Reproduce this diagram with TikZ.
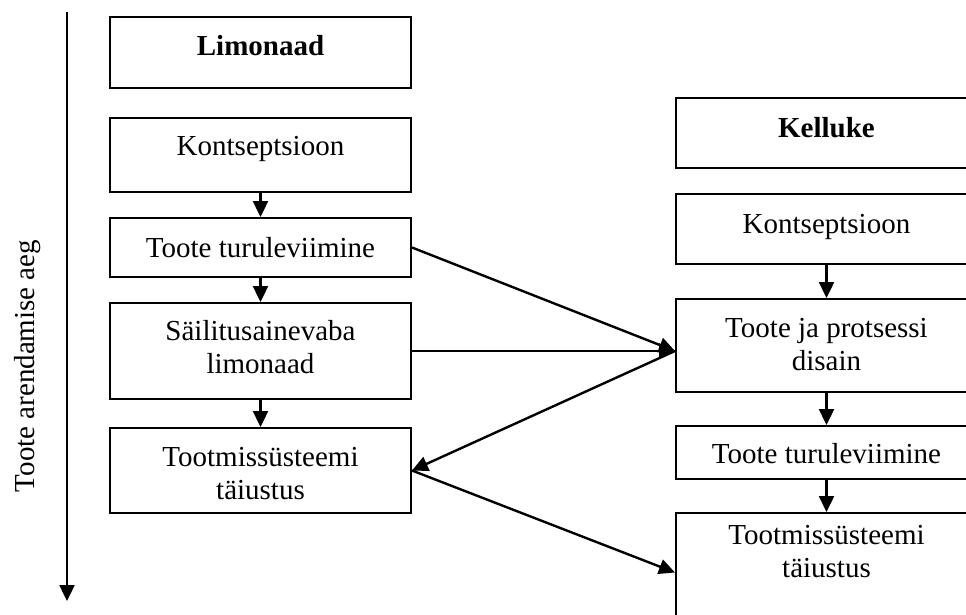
\documentclass[tikz,border=0pt]{standalone}
\usepackage{fontspec}
\setmainfont{Liberation Serif}
\usetikzlibrary{arrows.meta,calc}

\tikzset{
  stagebox/.style={draw, line width=2pt, rectangle, inner sep=0pt,
    minimum width=301pt, text height=22pt,
    font=\fontsize{29}{33.5}\selectfont},
  flow/.style={line width=2.4pt, -{Triangle[length=16pt,width=15pt]}},
}
% two-line centred text, baseline at the first line
\newcommand{\twoline}[2]{\begin{tabular}[t]{@{}c@{}}#1\\#2\end{tabular}}

\begin{document}
\begin{tikzpicture}[x=1pt,y=-1pt]
\useasboundingbox (0,0) rectangle (966,615);
\clip (0,0) rectangle (966,615);

% time axis
\coordinate (axisTop) at (67,12);
\coordinate (axisEnd) at (67,601);
\draw[flow] (axisTop) -- (axisEnd);
\node[rotate=90, anchor=base, inner sep=0pt,
      font=\fontsize{29}{33.5}\selectfont] (axislabel) at (34,366)
  {Toote arendamise aeg};

% Limonaad column
\node[stagebox, minimum height=71pt, text depth=15pt]  (l0) at (260.5,52.5) {\textbf{Limonaad}};
\node[stagebox, minimum height=74pt, text depth=20pt]  (l1) at (260.5,155)  {Kontseptsioon};
\node[stagebox, minimum height=59pt, text depth=3pt]   (l2) at (260.5,247.5){Toote turuleviimine};
\node[stagebox, minimum height=96pt, text depth=44pt]  (l3) at (260.5,351)  {\twoline{Säilitusainevaba}{limonaad}};
\node[stagebox, minimum height=85pt, text depth=31pt]  (l4) at (260.5,470.5){\twoline{Tootmissüsteemi}{täiustus}};

% Kelluke column
\node[stagebox, minimum height=70pt, text depth=12pt]  (r0) at (826.5,133)  {\textbf{Kelluke}};
\node[stagebox, minimum height=70pt, text depth=14pt]  (r1) at (826.5,229)  {Kontseptsioon};
\node[stagebox, minimum height=93pt, text depth=39pt]  (r2) at (826.5,345.5){\twoline{Toote ja protsessi}{disain}};
\node[stagebox, minimum height=53pt, text depth=1pt]   (r3) at (826.5,452.5){Toote turuleviimine};
\node[stagebox, minimum height=119pt, text depth=79pt] (r4) at (826.5,572.5){\twoline{Tootmissüsteemi}{täiustus}};

% sequence within each column
\draw[flow] (l1) -- (l2);
\draw[flow] (l2) -- (l3);
\draw[flow] (l3) -- (l4);
\draw[flow] (r1) -- (r2);
\draw[flow] (r2) -- (r3);
\draw[flow] (r3) -- (r4);

% links between the columns
\coordinate (hub) at (r2.west |- l3.east);
\draw[flow] (l2.east) -- (hub);
\draw[flow] (l3.east) -- (hub);
\draw[flow] (hub) -- (l4.east);
\draw[flow] (l4.east) -- (r4.west);
\end{tikzpicture}
\end{document}
